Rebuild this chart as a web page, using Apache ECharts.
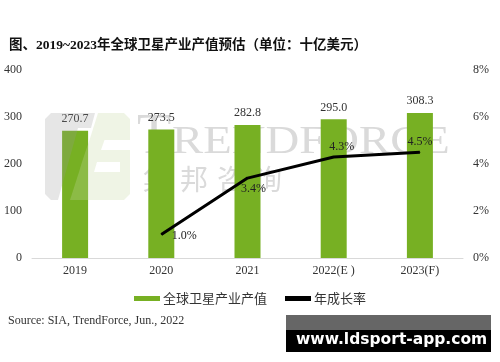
<!DOCTYPE html>
<html><head><meta charset="utf-8">
<script src="https://cdn.jsdelivr.net/npm/echarts@6/dist/echarts.min.js"></script>
<style>html,body{margin:0;padding:0;background:#fff}#c{width:500px;height:362px}</style>
</head><body><div id="c"></div>
<script>
const categories = ['2019', '2020', '2021', '2022(E )', '2023(F)'];
const outputValues = [270.7, 273.5, 282.8, 295.0, 308.3];
const growthRates = [null, 1.0, 3.4, 4.3, 4.5];
const leftTicks = [0, 100, 200, 300, 400];
const rightTicks = [0, 2, 4, 6, 8];

const serif = '"Liberation Serif","Times New Roman",serif';
const cjk = '"Noto Sans CJK SC","Noto Sans",sans-serif';
const chart = echarts.init(document.getElementById('c'));
const lblPos = [null, 'right', 'bottom', 'top', 'top'];
const lblOff = [null, [6, 1], [6, 0], [8, 0], [0, 0]];
const wmGray = '#dadada';
const logoGray = 'rgba(150,150,150,0.24)';
const logoGreen = 'rgba(196,217,161,0.28)';
const poly = (pts, fill) => ({ type: 'polygon', z: 100, silent: true, shape: { points: pts }, style: { fill: fill } });
chart.setOption({
  animation: false,
  title: {
    text: '图、2019~2023年全球卫星产业产值预估（单位：十亿美元）',
    left: 4, top: 34,
    textStyle: { fontFamily: '"Liberation Serif","Noto Sans CJK SC",serif', fontSize: 13.5, fontWeight: 'bold', color: '#111' }
  },
  graphic: [
    { type: 'text', x: 137, y: 110, z: 0, silent: true,
      style: { text: 'T', fill: wmGray, font: '56px "Liberation Serif",serif' } },
    { type: 'text', x: 172, y: 122, z: 0, scaleX: 1.14, silent: true,
      style: { text: 'RENDFORCE', fill: wmGray, font: '41px "Liberation Serif",serif' } },
    { type: 'text', x: 143, y: 165, z: 0, silent: true, style: { text: '集', fill: wmGray, font: '28px "Noto Sans CJK SC",sans-serif' } },
    { type: 'text', x: 180, y: 165, z: 0, silent: true, style: { text: '邦', fill: wmGray, font: '28px "Noto Sans CJK SC",sans-serif' } },
    { type: 'text', x: 217, y: 165, z: 0, silent: true, style: { text: '咨', fill: wmGray, font: '28px "Noto Sans CJK SC",sans-serif' } },
    { type: 'text', x: 254, y: 165, z: 0, silent: true, style: { text: '询', fill: wmGray, font: '28px "Noto Sans CJK SC",sans-serif' } },
    poly([[51,113],[95,113],[91,128],[78,128],[58,200],[51,200],[45,194],[45,119]], logoGray),
    poly([[98,113],[124,113],[130,119],[130,140],[89.5,140]], logoGreen),
    poly([[89.5,140],[104.5,140],[101,150],[86,150]], logoGreen),
    poly([[86,150],[130,150],[130,162],[82,162]], logoGreen),
    poly([[82,162],[97,162],[94,172],[79,172]], logoGreen),
    poly([[120,162],[130,162],[130,172],[120,172]], logoGreen),
    poly([[79,172],[130,172],[130,194],[124,200],[70,200]], logoGreen),
    { type: 'rect', left: 286, top: 315, z: 110, shape: { width: 205, height: 15 }, style: { fill: '#666' } },
    { type: 'rect', left: 286, top: 330, z: 110, shape: { width: 205, height: 22 }, style: { fill: '#000' } },
    { type: 'text', left: 296, top: 332, z: 111,
      style: { text: 'www.ldsport-app.com', fill: '#fff', font: 'bold 15.5px "DejaVu Sans",sans-serif' } },
    { type: 'text', left: 8, top: 315,
      style: { text: 'Source: SIA, TrendForce, Jun., 2022', fill: '#333', font: '12px "Liberation Serif",serif' } }
  ],
  legend: {
    bottom: 52, left: 'center', itemGap: 18, itemWidth: 26, itemHeight: 5,
    textStyle: { fontFamily: cjk, fontSize: 13, color: '#333', padding: [0, 0, 0, -2] },
    data: [
      { name: '全球卫星产业产值', icon: 'rect' },
      { name: '年成长率', icon: 'rect', itemStyle: { color: '#000' } }
    ]
  },
  grid: { left: 32, right: 37, top: 70, bottom: 104 },
  xAxis: {
    type: 'category', data: categories,
    axisLine: { lineStyle: { color: '#d9d9d9' } },
    axisTick: { show: false },
    axisLabel: { fontFamily: serif, fontSize: 12, color: '#333', margin: 7 }
  },
  yAxis: [
    { type: 'value', min: 0, max: 400, interval: 100, splitLine: { show: false },
      axisLabel: { fontFamily: serif, fontSize: 12, color: '#333', margin: 10 } },
    { type: 'value', min: 0, max: 8, interval: 2, splitLine: { show: false },
      axisLabel: { fontFamily: serif, fontSize: 12, color: '#333', margin: 10, formatter: '{value}%' } }
  ],
  series: [
    { name: '全球卫星产业产值', type: 'bar', data: outputValues, barWidth: 26,
      itemStyle: { color: '#77B023' }, z: 2,
      label: { show: true, position: 'top', distance: 6, fontFamily: serif, fontSize: 12, color: '#333',
        formatter: p => p.value.toFixed(1) } },
    { name: '年成长率', type: 'line', yAxisIndex: 1, z: 3,
      data: growthRates.map((v, i) => v == null ? null : {
        value: v,
        label: { position: lblPos[i], offset: lblOff[i] }
      }),
      symbol: 'circle', symbolSize: 1, showSymbol: true,
      itemStyle: { color: '#000' }, lineStyle: { color: '#000', width: 3 },
      label: { show: true, fontFamily: serif, fontSize: 12, color: '#222', distance: 4,
        formatter: p => p.value.toFixed(1) + '%' } }
  ]
});
</script></body></html>
